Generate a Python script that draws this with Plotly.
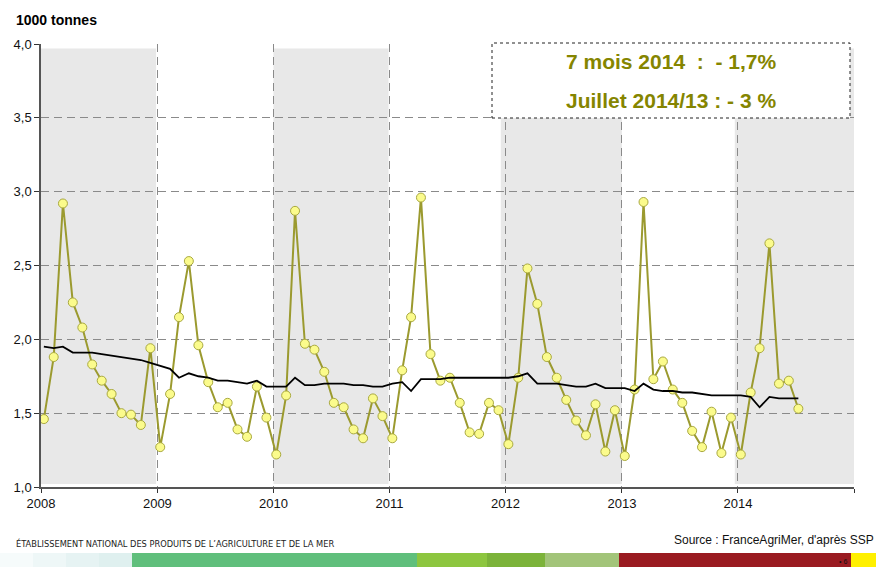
import pandas as pd
import plotly.graph_objects as go

# ---------------- data ----------------
monthly_values = [
    # 2008
    1.46, 1.88, 2.92, 2.25, 2.08, 1.83, 1.72, 1.63, 1.50, 1.49, 1.42, 1.94,
    # 2009
    1.27, 1.63, 2.15, 2.53, 1.96, 1.71, 1.54, 1.57, 1.39, 1.34, 1.68, 1.47,
    # 2010
    1.22, 1.62, 2.87, 1.97, 1.93, 1.78, 1.57, 1.54, 1.39, 1.33, 1.60, 1.48,
    # 2011
    1.33, 1.79, 2.15, 2.96, 1.90, 1.72, 1.74, 1.57, 1.37, 1.36, 1.57, 1.52,
    # 2012
    1.29, 1.74, 2.48, 2.24, 1.88, 1.74, 1.59, 1.45, 1.35, 1.56, 1.24, 1.52,
    # 2013
    1.21, 1.66, 2.93, 1.73, 1.85, 1.66, 1.57, 1.38, 1.27, 1.51, 1.23, 1.47,
    # 2014 (Jan-Jul)
    1.22, 1.64, 1.94, 2.65, 1.70, 1.72, 1.53,
]
moving_average = [
    1.95, 1.94, 1.95, 1.91, 1.91, 1.91, 1.90, 1.89, 1.88, 1.87, 1.86, 1.84,
    1.82, 1.80, 1.74, 1.77, 1.75, 1.74, 1.72, 1.72, 1.71, 1.70, 1.72, 1.68,
    1.68, 1.68, 1.74, 1.69, 1.69, 1.70, 1.70, 1.70, 1.69, 1.69, 1.68, 1.68,
    1.70, 1.71, 1.65, 1.73, 1.73, 1.73, 1.74, 1.74, 1.74, 1.745, 1.74, 1.74,
    1.74, 1.75, 1.77, 1.70, 1.70, 1.70, 1.69, 1.68, 1.68, 1.70, 1.67, 1.67,
    1.67, 1.65, 1.70, 1.66, 1.65, 1.65, 1.64, 1.64, 1.63, 1.62, 1.62, 1.62,
    1.62, 1.61, 1.54, 1.61, 1.60, 1.60, 1.60,
]
months = pd.date_range("2008-01-01", periods=len(monthly_values), freq="MS") + pd.Timedelta(days=9)

years = list(range(2008, 2016))
year_labels = ["2008", "2009", "2010", "2011", "2012", "2013", "2014", ""]
band_starts = ["2008-01-01", "2010-01-01", "2011-12-17", "2013-12-22"]
band_ends = ["2008-12-28", "2010-12-29", "2013-01-01", "2015-01-01"]

title_text = "1000 tonnes"
box_line1 = "7 mois 2014\u00a0\u00a0:\u00a0\u00a0- 1,7%"
box_line2 = "Juillet 2014/13 : - 3 %"
footer_left = "ÉTABLISSEMENT NATIONAL DES PRODUITS DE L\u2019AGRICULTURE ET DE LA MER"
footer_right = "Source : FranceAgriMer, d'après SSP"

# stripe segments in pixel x (page coordinates)
stripe_edges = [0, 33, 66, 99, 132, 417, 487, 545, 619, 851, 876]
stripe_colors = ["#f6fbfb", "#eef7f7", "#e6f3f3", "#dff0ef", "#60bf7c",
                 "#8dc63f", "#7cb33a", "#a2c479", "#9a1b21", "#fff000"]

# ---------------- layout geometry ----------------
W, H = 876, 567
L, R, T, B = 41, 854, 44, 487
pw, ph = R - L, B - T


def px(x):
    return (x - L) / pw


def py(y):
    return (B - y) / ph


fig = go.Figure()

fig.add_trace(go.Scatter(
    x=months, y=monthly_values, mode="lines+markers",
    line=dict(color="#9b9a2f", width=2),
    marker=dict(size=9, color="#fbfb8c", line=dict(color="#a9a940", width=1)),
    hoverinfo="skip", showlegend=False,
))
fig.add_trace(go.Scatter(
    x=months, y=moving_average, mode="lines",
    line=dict(color="#000000", width=1.8),
    hoverinfo="skip", showlegend=False,
))

shapes = []
for s, e in zip(band_starts, band_ends):
    shapes.append(dict(type="rect", xref="x", yref="y", x0=s, x1=e, y0=1.02, y1=3.97,
                       fillcolor="#e8e8e8", line=dict(width=0), layer="below"))

# annotation box
shapes.append(dict(type="rect", xref="paper", yref="paper",
                   x0=px(492), x1=px(850), y0=py(118), y1=py(43),
                   fillcolor="white", line=dict(color="#222222", width=1, dash="dot"),
                   layer="above"))

# bottom stripe
for i, c in enumerate(stripe_colors):
    shapes.append(dict(type="rect", xref="paper", yref="paper",
                       x0=px(stripe_edges[i]), x1=px(stripe_edges[i + 1]),
                       y0=py(567), y1=py(553),
                       fillcolor=c, line=dict(width=0), layer="above"))

annotations = [
    dict(text="<b>" + title_text + "</b>", xref="paper", yref="paper",
         x=px(14), y=py(20), xanchor="left", yanchor="middle", showarrow=False,
         font=dict(family="Liberation Sans, Arial", size=14, color="#000")),
    dict(text="<b>" + box_line1 + "</b>", xref="paper", yref="paper",
         x=px(671), y=py(62), xanchor="center", yanchor="middle", showarrow=False,
         font=dict(family="Liberation Sans, Arial", size=21, color="#858500")),
    dict(text="<b>" + box_line2 + "</b>", xref="paper", yref="paper",
         x=px(671), y=py(101), xanchor="center", yanchor="middle", showarrow=False,
         font=dict(family="Liberation Sans, Arial", size=21, color="#858500")),
    dict(text=footer_left, xref="paper", yref="paper",
         x=px(14), y=py(543), xanchor="left", yanchor="middle", showarrow=False,
         font=dict(family="Liberation Sans Narrow, DejaVu Sans Condensed, Arial", size=9.2, color="#222")),
    dict(text=footer_right, xref="paper", yref="paper",
         x=px(876), y=py(540), xanchor="right", yanchor="middle", showarrow=False,
         font=dict(family="Liberation Sans, Arial", size=12, color="#111")),
    dict(text="\u2022 6", xref="paper", yref="paper",
         x=px(843), y=py(561), xanchor="center", yanchor="middle", showarrow=False,
         font=dict(family="Liberation Sans, Arial", size=7, color="#111")),
]

fig.update_layout(
    width=W, height=H, autosize=False,
    margin=dict(l=L, r=W - R, t=T, b=H - B, pad=0),
    paper_bgcolor="white", plot_bgcolor="white",
    separators=", ",
    shapes=shapes, annotations=annotations,
    font=dict(family="Liberation Sans, Arial", size=13, color="#111"),
)
fig.update_xaxes(
    type="date", range=["2008-01-01", "2015-01-01"],
    tickvals=[f"{y}-01-01" for y in years], ticktext=year_labels,
    showgrid=True, gridcolor="#8a8a8a", gridwidth=1, griddash="8px,5px",
    showline=True, linecolor="#555", linewidth=1.5,
    ticks="outside", ticklen=4, tickcolor="#333", tickwidth=1,
    tickfont=dict(size=13, color="#111"), zeroline=False, fixedrange=True,
)
fig.update_yaxes(
    range=[1, 4], dtick=0.5, tick0=1, tickformat=".1f",
    showgrid=True, gridcolor="#8a8a8a", gridwidth=1, griddash="8px,5px",
    showline=True, linecolor="#555", linewidth=1.5,
    ticks="outside", ticklen=5, tickcolor="#333", tickwidth=1,
    tickfont=dict(size=13, color="#111"), zeroline=False, fixedrange=True,
)

fig.write_html(
    "out.html",
    config={"displayModeBar": False},
    post_script="document.body.style.margin='0';document.body.style.overflow='hidden';",
)
